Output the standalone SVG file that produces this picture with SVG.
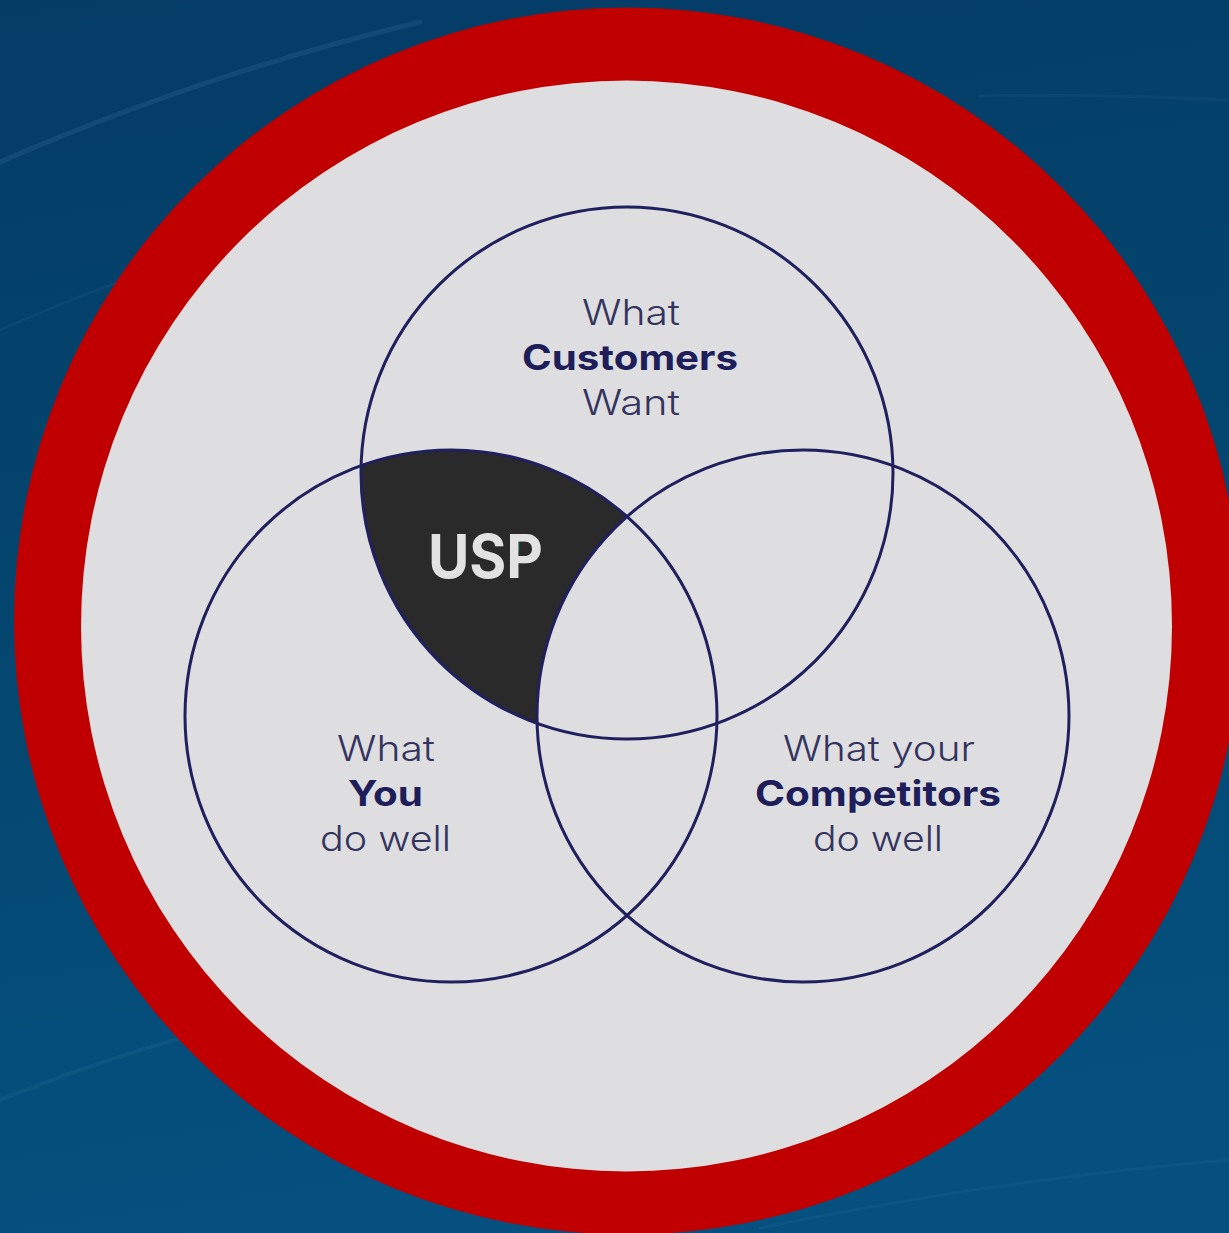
<svg xmlns="http://www.w3.org/2000/svg" width="1229" height="1233" viewBox="0 0 1229 1233">
  <defs>
    <linearGradient id="bg" x1="0" y1="0" x2="0.15" y2="1">
      <stop offset="0" stop-color="#043c66"/>
      <stop offset="0.5" stop-color="#04466f"/>
      <stop offset="1" stop-color="#05507f"/>
    </linearGradient>
    <style>
      .streak { fill: none; stroke: #5a8fb8; stroke-linecap: round; }
      .ring { fill: none; stroke: #20205e; stroke-width: 3; }
      .lbl { font-family: Inter, "Liberation Sans", sans-serif; font-size: 35px; text-anchor: middle; fill: #34345f; font-weight: 300; }
      .lbl.b { font-weight: 700; fill: #1e1e5a; }
      .usp { font-family: Inter, "Liberation Sans", sans-serif; font-size: 60px; font-weight: 700; fill: #e2e2e2; text-anchor: middle; }
    </style>
  </defs>

  <!-- backdrop -->
  <rect width="1229" height="1233" fill="url(#bg)"/>
  <g id="streaks">
    <path class="streak" d="M0,162 C120,110 260,60 420,22" stroke-width="5" opacity="0.16"/>
    <path class="streak" d="M0,330 C90,290 170,262 250,240" stroke-width="3" opacity="0.09"/>
    <path class="streak" d="M0,1100 C80,1068 150,1045 230,1025" stroke-width="4" opacity="0.1"/>
    <path class="streak" d="M760,1228 C900,1200 1050,1175 1229,1160" stroke-width="3" opacity="0.09"/>
    <path class="streak" d="M1229,100 C1140,96 1060,94 980,96" stroke-width="3" opacity="0.08"/>
  </g>

  <!-- badge: red ring with pale disc -->
  <circle cx="627.5" cy="621" r="613.5" fill="#c00000"/>
  <circle cx="626.5" cy="626" r="545.5" fill="#dedee0"/>

  <!-- highlighted region: customers want ∩ you do well, outside competitors -->
  <g id="usp">
    <path d="M361.1,465.65 A266,266 0 0 1 627,516.55 A266,266 0 0 0 537.1,723.35 A266,266 0 0 1 361.1,465.65 Z" fill="#2a2a2a"/>
    <rect x="511" y="540" width="9" height="11" fill="#0d4a3a"/>
    <text class="usp" x="485.5" y="578" textLength="115" lengthAdjust="spacingAndGlyphs">USP</text>
  </g>

  <g id="customers">
    <circle class="ring" cx="627" cy="473" r="266"/>
    <text class="lbl" x="631" y="325" textLength="98" lengthAdjust="spacingAndGlyphs">What</text>
    <text class="lbl b" x="630" y="370" textLength="216" lengthAdjust="spacingAndGlyphs">Customers</text>
    <text class="lbl" x="631" y="415" textLength="98" lengthAdjust="spacingAndGlyphs">Want</text>
  </g>

  <g id="you">
    <circle class="ring" cx="451" cy="716" r="266"/>
    <text class="lbl" x="386" y="761" textLength="98" lengthAdjust="spacingAndGlyphs">What</text>
    <text class="lbl b" x="385.5" y="806" textLength="75" lengthAdjust="spacingAndGlyphs">You</text>
    <text class="lbl" x="385.5" y="851" textLength="131" lengthAdjust="spacingAndGlyphs">do well</text>
  </g>

  <g id="competitors">
    <circle class="ring" cx="803" cy="716" r="266"/>
    <text class="lbl" x="879" y="761" textLength="192" lengthAdjust="spacingAndGlyphs">What your</text>
    <text class="lbl b" x="878" y="806" textLength="246" lengthAdjust="spacingAndGlyphs">Competitors</text>
    <text class="lbl" x="878" y="851" textLength="130" lengthAdjust="spacingAndGlyphs">do well</text>
  </g>
</svg>
